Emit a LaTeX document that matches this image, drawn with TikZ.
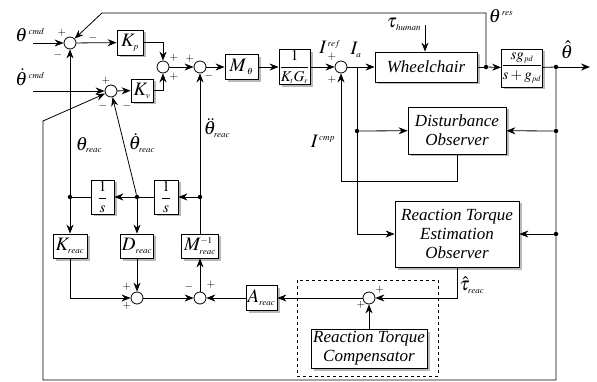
\documentclass[tikz,border=0pt]{standalone}
\usepackage{mathptmx}
\usepackage{fontspec}
\setmainfont{Liberation Serif}
\usetikzlibrary{arrows.meta,shadows}
\DeclareMathSizes{19}{19}{9}{7}
\DeclareMathSizes{15}{15}{8}{6}
\newcommand{\mbig}{\fontsize{19}{21}\selectfont}
\newcommand{\msmall}{\fontsize{15}{17}\selectfont}
\newcommand{\btxt}{\fontsize{17}{19}\selectfont\itshape}
\newcommand{\sgtxt}{\fontsize{11}{11}\selectfont}
\tikzset{
  blk/.style={draw, fill=white, line width=0.8pt, inner sep=0pt, align=center,
    drop shadow={shadow xshift=2.5pt, shadow yshift=-2.5pt, fill=gray!55, opacity=1}},
  sumc/.style={draw, circle, fill=white, minimum size=12pt, inner sep=0pt, line width=0.8pt},
  dotn/.style={circle, fill=black, minimum size=4.5pt, inner sep=0pt},
  arr/.style={-{Stealth[length=9pt,width=7pt,inset=3pt]}},
  ln/.style={line width=0.8pt},
  sgn/.style={font=\sgtxt, inner sep=0pt},
  lbl/.style={font=\mbig, inner sep=0pt},
}
\begin{document}
\begin{tikzpicture}[x=1pt,y=-1pt]
\useasboundingbox (0,0) rectangle (597,382);
% upper row
\node[sumc] (s1) at (70,43) {};
\node[blk, font=\mbig, minimum width=26pt, minimum height=25pt] (kp) at (130,42.5) {$K_p$};
\node[sumc] (s2) at (111,91) {};
\node[blk, font=\mbig, minimum width=22pt, minimum height=23pt] (kv) at (142,90.5) {$K_v$};
\node[sumc] (s3) at (163,67) {};
\node[sumc] (s4) at (200,67) {};
\node[blk, font=\mbig, minimum width=33pt, minimum height=25pt] (mt) at (241.5,67) {$M_{\;\theta}$};
\node[blk, font=\msmall, minimum width=31pt, minimum height=35pt] (kt) at (294.5,67) {$\displaystyle\frac{1}{K_tG_r}$};
\node[sumc] (s5) at (341,67) {};
\coordinate (br) at (357,67);
\node[blk, font=\btxt, minimum width=102pt, minimum height=30pt] (wc) at (426,67) {Wheelchair};
\node[dotn] (d1) at (486,67) {};
\node[blk, font=\msmall, minimum width=40pt, minimum height=38pt] (flt) at (522,68) {$\displaystyle\frac{sg_{pd}}{s+g_{pd}}$};
\node[dotn] (d2) at (556,67) {};
\coordinate (out) at (590,67);
\coordinate (in1) at (33,43);
\coordinate (in2) at (33,91);
\coordinate (fb1) at (486,13);
\coordinate (fb2) at (102,13);
\coordinate (th) at (425,25);
% observers
\node[blk, font=\btxt, minimum width=98pt, minimum height=47pt] (dob) at (457,130.5) {Disturbance\\Observer};
\node[dotn] (d3) at (357,131) {};
\node[dotn] (d4) at (556,131) {};
\node[blk, font=\btxt, minimum width=124pt, minimum height=66pt] (rteo) at (457,234) {Reaction Torque\\Estimation\\Observer};
\node[dotn] (d5) at (556,234) {};
\coordinate (c1) at (457,181);
\coordinate (c2) at (341,181);
\coordinate (br2) at (556,380);
\coordinate (bl) at (43,380);
\coordinate (lt) at (43,121);
% lower part
\node[blk, font=\msmall, minimum width=23pt, minimum height=34pt] (is1) at (102.5,197) {$\displaystyle\frac{1}{s}$};
\node[blk, font=\msmall, minimum width=24pt, minimum height=34pt] (is2) at (166,197) {$\displaystyle\frac{1}{s}$};
\node[dotn] (d6) at (70,197) {};
\node[dotn] (d7) at (137,197) {};
\node[dotn] (d8) at (200,197) {};
\node[blk, font=\mbig, minimum width=34pt, minimum height=24pt] (kr) at (70,246) {$K_{reac}$};
\node[blk, font=\mbig, minimum width=33pt, minimum height=24pt] (dr) at (137,246) {$D_{reac}$};
\node[blk, font=\mbig, minimum width=37pt, minimum height=24pt] (mr) at (200,246) {$M^{-1}_{reac}$};
\node[sumc] (s8) at (137,298) {};
\node[sumc] (s7) at (200,298) {};
\node[blk, font=\mbig, minimum width=31pt, minimum height=25pt] (ar) at (261.5,298) {$A_{reac}$};
\node[sumc] (s6) at (369,298) {};
\coordinate (tr) at (457,298);
\node[blk, font=\btxt, minimum width=116pt, minimum height=39pt] (rtc) at (369,348.5) {Reaction Torque\\Compensator};
\draw[ln, dashed] (297,280) rectangle (438,376);
% connectors
\draw[ln,arr] (in1) -- (s1);
\draw[ln,arr] (d1) -- (fb1) -- (fb2) -- (s1);
\draw[ln,arr] (s1) -- (kp);
\draw[ln,arr] (in2) -- (s2);
\draw[ln,arr] (s2) -- (kv);
\draw[ln,arr] (kp.east) -| (s3.north);
\draw[ln,arr] (kv.east) -| (s3.south);
\draw[ln,arr] (s3) -- (s4);
\draw[ln,arr] (s4) -- (mt);
\draw[ln,arr] (mt) -- (kt);
\draw[ln,arr] (kt) -- (s5);
\draw[ln,arr] (s5) -- (wc);
\draw[ln] (br) -- (d3);
\draw[ln,arr] (d3) -- (dob);
\draw[ln,arr] (d3) |- (rteo.west);
\draw[ln,arr] (dob.south) -- (c1) -- (c2) -- (s5);
\draw[ln,arr] (th) -- (th |- wc.north);
\draw[ln] (wc) -- (d1);
\draw[ln,arr] (d1) -- (flt);
\draw[ln] (flt) -- (d2);
\draw[ln,arr] (d2) -- (out);
\draw[ln,arr] (d2) -- (d4) -- (d5) -- (br2) -- (bl) -- (lt) -- (s2);
\draw[ln,arr] (d4) -- (dob);
\draw[ln,arr] (d5) -- (rteo);
\draw[ln,arr] (rteo.south) -- (tr) -- (s6);
\draw[ln,arr] (rtc) -- (s6);
\draw[ln,arr] (s6) -- (ar);
\draw[ln,arr] (ar) -- (s7);
\draw[ln,arr] (s7) -- (mr);
\draw[ln] (mr) -- (d8);
\draw[ln,arr] (d8) -- (s4);
\draw[ln,arr] (d8) -- (is2);
\draw[ln] (is2) -- (d7);
\draw[ln,arr] (d7) -- (is1);
\draw[ln] (is1) -- (d6);
\draw[ln,arr] (d6) -- (s1);
\draw[ln,arr] (d6) -- (kr);
\draw[ln,arr] (d7) -- (s2);
\draw[ln,arr] (d7) -- (dr);
\draw[ln,arr] (kr.south) |- (s8.west);
\draw[ln,arr] (dr) -- (s8);
\draw[ln,arr] (s8) -- (s7);
% signal labels
\node[lbl] (l1) at (30,35) {$\theta^{\,cmd}$};
\node[lbl] (l2) at (30,77) {$\dot\theta^{\,cmd}$};
\node[lbl] (l3) at (501,16) {$\theta^{\,res}$};
\node[lbl] (l4) at (404,24) {$\tau_{\,human}$};
\node[lbl] (l5) at (330,47) {$I^{\,ref}$};
\node[lbl] (l6) at (356,50) {$I_{a}$};
\node[lbl] (l7) at (323,141) {$I^{\,cmp}$};
\node[lbl] (l8) at (89,145) {$\theta_{reac}$};
\node[lbl] (l9) at (142,143) {$\dot\theta_{reac}$};
\node[lbl] (l10) at (217,128) {$\ddot\theta_{reac}$};
\node[lbl] (l11) at (567,50) {$\hat\theta$};
\node[lbl] (l12) at (472,285) {$\hat\tau_{reac}$};
% signs
\node[sgn] at (62,33) {$+$};
\node[sgn] at (58,55) {$-$};
\node[sgn] at (93,38) {$-$};
\node[sgn] at (106,81) {$+$};
\node[sgn] at (103,106) {$-$};
\node[sgn] at (127,106) {$-$};
\node[sgn] at (174,58) {$+$};
\node[sgn] at (174,77) {$+$};
\node[sgn] at (190,59) {$+$};
\node[sgn] at (209,76) {$-$};
\node[sgn] at (332,57) {$+$};
\node[sgn] at (332,80) {$+$};
\node[sgn] at (380,290) {$+$};
\node[sgn] at (361,305) {$+$};
\node[sgn] at (189,287) {$-$};
\node[sgn] at (211,285) {$+$};
\node[sgn] at (127,287) {$+$};
\node[sgn] at (127,306) {$+$};
\end{tikzpicture}
\end{document}
